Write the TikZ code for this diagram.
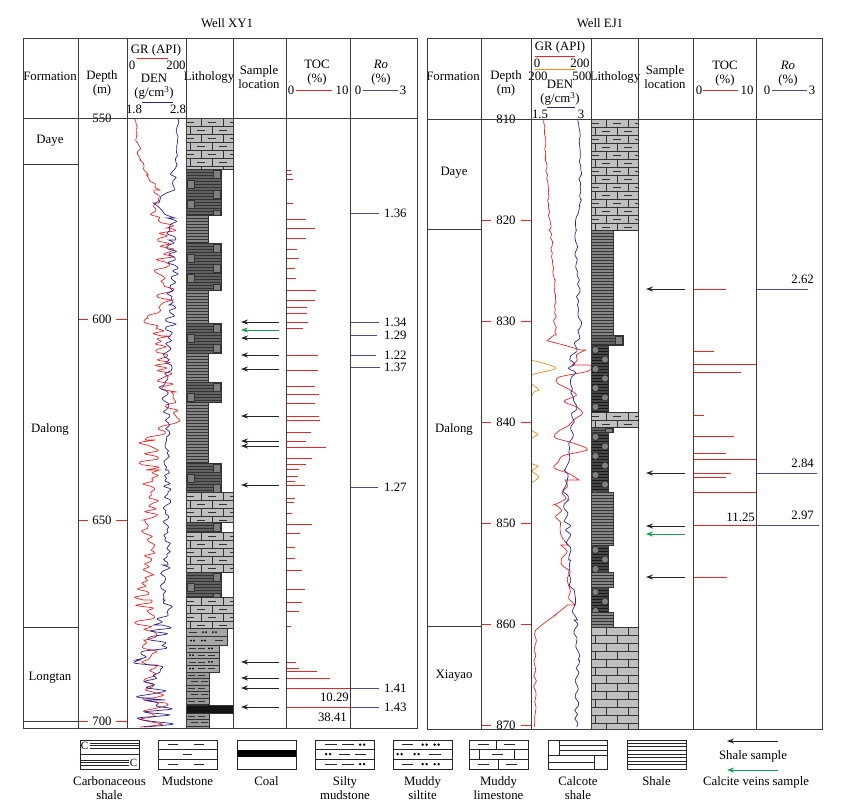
\documentclass[tikz,border=0pt]{standalone}
\usepackage{fontspec}
\setmainfont{Liberation Serif}
\usetikzlibrary{positioning}
\usetikzlibrary{calc}
\usetikzlibrary{arrows.meta}
\definecolor{grred}{RGB}{236,38,38}
\definecolor{denblue}{RGB}{48,36,140}
\definecolor{grorange}{RGB}{246,140,30}
\definecolor{roblue}{RGB}{80,70,150}
\definecolor{veingreen}{RGB}{20,160,80}
\definecolor{gridgray}{RGB}{60,60,60}
\tikzset{
	frame/.style={draw=gridgray, line width=0.9pt},
	hdr/.style={font=\fontsize{12.8}{14}\selectfont, inner sep=0pt, align=center},
	num/.style={font=\fontsize{12.8}{14}\selectfont, inner sep=0pt},
	depthtick/.style={draw=grred, line width=0.8pt},
	tocbar/.style={draw=grred, line width=0.8pt},
	robar/.style={draw=roblue, line width=0.9pt},
	grlog/.style={draw=grred, line width=0.7pt},
	orlog/.style={draw=grorange, line width=0.7pt},
	denlog/.style={draw=denblue, line width=0.7pt},
	sample/.style={draw=black!85, line width=0.9pt, -{Stealth[length=7pt,width=5pt]}},
	vein/.style={sample, draw=veingreen},
	lithline/.style={draw=black!80, line width=0.4pt},
	legline/.style={draw=black!85, line width=0.8pt},
	legbox/.style={draw=black!85, line width=0.8pt, minimum width=59pt, minimum height=29pt, inner sep=0pt, fill=white},
	leglabel/.style={font=\fontsize{12.8}{14}\selectfont, inner sep=0pt, align=center}
}
% lithology beds: x0, y0, x1, y1
\newcommand\plainlime[4]{%
	\fill[black!25] (#1,#2) rectangle (#3,#4);
	\begin{scope}
		\clip (#1,#2) rectangle (#3,#4);
		\foreach \k in {0,...,14} {
			\pgfmathsetmacro\ry{#2+\k*8}
			\pgfmathsetmacro\bx{#1+mod(\k,2)*11-7}
			\draw[lithline] (#1,\ry) -- (#3,\ry);
			\foreach \j in {0,1,2} \draw[lithline] (\bx+\j*22,\ry) -- (\bx+\j*22,\ry+8);
		}
	\end{scope}
	\draw[lithline] (#1,#2) rectangle (#3,#4);
}
\newcommand\mudlime[4]{%
	\plainlime{#1}{#2}{#3}{#4}
	\begin{scope}
		\clip (#1,#2) rectangle (#3,#4);
		\foreach \k in {0,...,14} {
			\pgfmathsetmacro\ry{#2+\k*8+4}
			\pgfmathsetmacro\bx{#1+mod(\k,2)*11-7}
			\foreach \j in {0,1,2} \draw[lithline, line width=0.7pt] (\bx+\j*22+7,\ry) -- (\bx+\j*22+15,\ry);
		}
	\end{scope}
}
\newcommand\shalebed[4]{%
	\fill[black!48] (#1,#2) rectangle (#3,#4);
	\begin{scope}
		\clip (#1,#2) rectangle (#3,#4);
		\foreach \k in {1,...,36} \draw[lithline] (#1,#2+\k*3) -- (#3,#2+\k*3);
	\end{scope}
	\draw[lithline] (#1,#2) rectangle (#3,#4);
}
\newcommand\carbshale[4]{%
	\fill[black!62] (#1,#2) rectangle (#3,#4);
	\begin{scope}
		\clip (#1,#2) rectangle (#3,#4);
		\foreach \k in {1,...,20} \draw[lithline] (#1,#2+\k*3) -- (#3,#2+\k*3);
		\foreach \k in {0,2,...,8} \filldraw[fill=black!50, draw=black!80, line width=0.4pt] (#3-8,#2+\k*10+1) rectangle (#3-1,#2+\k*10+9);
		\foreach \k in {1,3,...,9} \filldraw[fill=black!50, draw=black!80, line width=0.4pt] (#1+1,#2+\k*10+1) rectangle (#1+8,#2+\k*10+9);
	\end{scope}
	\draw[lithline] (#1,#2) rectangle (#3,#4);
}
\newcommand\calcshale[4]{%
	\fill[black!72] (#1,#2) rectangle (#3,#4);
	\begin{scope}
		\clip (#1,#2) rectangle (#3,#4);
		\foreach \k in {1,...,25} \draw[draw=black!90, line width=0.4pt] (#1,#2+\k*3) -- (#3,#2+\k*3);
		\foreach \k in {0,...,8} {
			\pgfmathsetmacro\cx{#1+4.5+mod(\k,2)*9.5}
			\filldraw[fill=black!50, draw=black!90, line width=0.4pt] (\cx,#2+5+\k*9.5) circle (3.5pt);
		}
	\end{scope}
	\draw[lithline] (#1,#2) rectangle (#3,#4);
}
\newcommand\mudbed[4]{%
	\fill[black!40] (#1,#2) rectangle (#3,#4);
	\begin{scope}
		\clip (#1,#2) rectangle (#3,#4);
		\foreach \k in {0,...,6} {
			\pgfmathsetmacro\ry{#2+\k*6.5}
			\pgfmathsetmacro\dx{#1+2+mod(\k,2)*3}
			\draw[lithline] (#1,\ry) -- (#3,\ry);
			\draw[lithline, line width=0.7pt] (\dx,\ry+3.25) -- (\dx+7,\ry+3.25) (\dx+10,\ry+3.25) -- (\dx+17,\ry+3.25);
		}
	\end{scope}
	\draw[lithline] (#1,#2) rectangle (#3,#4);
}
\newcommand\siltymud[4]{%
	\fill[black!35] (#1,#2) rectangle (#3,#4);
	\begin{scope}
		\clip (#1,#2) rectangle (#3,#4);
		\foreach \k in {0,2} {
			\pgfmathsetmacro\ry{#2+\k*6.75}
			\draw[lithline] (#1,\ry) -- (#3,\ry);
			\draw[lithline, line width=0.7pt] (#1+3,\ry+3.4) -- (#1+10,\ry+3.4) (#1+12,\ry+3.4) -- (#1+19,\ry+3.4);
			\fill[black] (#1+23,\ry+3.4) circle (1pt) (#1+26,\ry+3.4) circle (1pt);
		}
		\foreach \k in {1,3} {
			\pgfmathsetmacro\ry{#2+\k*6.75}
			\draw[lithline] (#1,\ry) -- (#3,\ry);
			\fill[black] (#1+4,\ry+3.4) circle (1pt) (#1+7,\ry+3.4) circle (1pt);
			\draw[lithline, line width=0.7pt] (#1+12,\ry+3.4) -- (#1+19,\ry+3.4) (#1+22,\ry+3.4) -- (#1+29,\ry+3.4);
		}
	\end{scope}
	\draw[lithline] (#1,#2) rectangle (#3,#4);
}
\newcommand\muddysilt[4]{%
	\fill[black!35] (#1,#2) rectangle (#3,#4);
	\draw[lithline] (#1,#2+8.5) -- (#3,#2+8.5);
	\draw[lithline, line width=0.7pt] (#1+3,#2+4.2) -- (#1+11,#2+4.2) (#1+29,#2+12.7) -- (#1+37,#2+12.7);
	\fill[black] (#1+17,#2+4.2) circle (1pt) (#1+20,#2+4.2) circle (1pt) (#1+27,#2+4.2) circle (1pt) (#1+30,#2+4.2) circle (1pt)
		(#1+5,#2+12.7) circle (1pt) (#1+8,#2+12.7) circle (1pt) (#1+16,#2+12.7) circle (1pt) (#1+19,#2+12.7) circle (1pt);
	\draw[lithline] (#1,#2) rectangle (#3,#4);
}
\newcommand\coalbed[4]{%
	\fill[black!92] (#1,#2) rectangle (#3,#4);
	\draw[lithline] (#1,#2) rectangle (#3,#4);
}
% wire-line log: style, start, segments ya/yb/xa/xb/amp/samples
\newcommand\wirelog[3]{%
	\draw[#1] #2 \foreach \ya/\yb/\xa/\xb/\am/\n in {#3} {
		-- plot[smooth, variable=\t, domain=\ya:\yb, samples=\n] ({\xa+(\xb-\xa)*(\t-\ya)/(\yb-\ya)+\am*rand}, \t)
	};
}
\begin{document}
\begin{tikzpicture}[x=1pt, y=-1pt]
\useasboundingbox (0,0) rectangle (848,806);
\pgfmathsetseed{4711}

%%%%% Well XY1
\node[hdr] (xy-title) at (227,23) {Well XY1};
\node[hdr] (xy-form) at (50,76) {Formation};
\node[hdr] (xy-depth) at (102,83) {Depth\\(m)};
\node[hdr] (xy-gr) at (156,50) {GR (API)};
\draw[grlog, line width=0.9pt] (137,58) -- (168,58);
\node[num] (xy-gr0) at (132,65) {0};
\node[num] (xy-gr1) at (176,65) {200};
\node[hdr] (xy-den) at (154,87) {DEN\\(g/cm\textsuperscript{3})};
\draw[denlog, line width=0.9pt] (142,102) -- (173,102);
\node[num] (xy-den0) at (134,109) {1.8};
\node[num] (xy-den1) at (178,109) {2.8};
\node[hdr] (xy-lith) at (209,77) {Lithology};
\node[hdr] (xy-sample) at (259,77) {Sample\\location};
\node[hdr] (xy-toc) at (317,73) {TOC\\(\%)};
\node[num] (xy-toc0) at (291,90) {0};
\draw[tocbar] (296,90) -- (332,90);
\node[num] (xy-toc1) at (342,90) {10};
\node[hdr] (xy-ro) at (381,73) {\textit{Ro}\\(\%)};
\node[num] (xy-ro0) at (358,90) {0};
\draw[robar] (363,90) -- (398,90);
\node[num] (xy-ro1) at (403,90) {3};

% formations
\node[hdr] (xy-daye) at (50,141) {Daye};
\node[hdr] (xy-dalong) at (50,429) {Dalong};
\node[hdr] (xy-longtan) at (50,678) {Longtan};

% depth scale
\foreach \d in {550,600,650,700} {
	\pgfmathsetmacro\yy{118+(\d-550)*4.02}
	\draw[depthtick] (78,\yy) -- (88,\yy) (116,\yy) -- (127,\yy);
	\node[num] (xy-d\d) at (102,\yy) {\d};
}

% lithology
\mudlime{186}{118}{233}{169}
\carbshale{186}{169}{221}{215}
\shalebed{186}{215}{208}{243}
\carbshale{186}{243}{221}{290}
\shalebed{186}{290}{208}{323}
\carbshale{186}{323}{221}{353}
\shalebed{186}{353}{208}{382}
\carbshale{186}{382}{221}{402}
\shalebed{186}{402}{208}{463}
\carbshale{186}{463}{221}{492}
\mudlime{186}{492}{233}{522}
\carbshale{186}{522}{221}{532}
\mudlime{186}{532}{233}{572}
\carbshale{186}{572}{221}{597}
\mudlime{186}{597}{233}{628}
\muddysilt{186}{628}{227}{645}
\siltymud{186}{645}{219}{672}
\mudbed{186}{672}{209}{705}
\coalbed{186}{705}{233}{713}
\mudbed{186}{713}{209}{728}

% logs
\begin{scope}
	\clip (127.5,118) rectangle (185.5,728);
	\wirelog{grlog}{(135,118)}{118/135/135/137/1.5/7, 135/160/137/140/2/10, 160/175/140/148/2/6,
		175/190/148/157/3/6, 190/212/157/155/4/9, 212/228/155/170/8/7, 228/262/170/163/10/14,
		262/300/163/168/10/15, 300/318/168/150/5/8, 318/336/150/162/8/8, 336/392/162/167/10/22,
		392/418/167/175/8/11, 418/440/175/148/10/9, 440/470/148/150/12/12, 470/520/150/150/10/19,
		520/575/150/146/8/21, 575/600/146/143/10/10, 600/640/143/148/10/16, 640/665/148/150/8/10,
		665/698/150/155/10/13, 698/727/155/150/16/12}
	\wirelog{denlog}{(178,118)}{118/165/178/176/1.5/16, 165/190/176/172/4/9, 190/203/172/155/6/5,
		203/218/155/172/6/5, 218/240/172/173/6/8, 240/305/173/172/6/24, 305/390/172/165/6/32,
		390/470/165/168/4/30, 470/565/168/166/4/36, 565/600/166/165/6/13, 600/625/165/160/10/9,
		625/660/160/150/15/13, 660/700/150/155/18/14, 700/727/155/155/20/10}
\end{scope}

% samples
\foreach \yy in {322,338,355,369,416,441,446,485,662,678,688,707}
	\draw[sample] (279,\yy) -- (241,\yy);
\draw[vein] (279,330) -- (241,330);

% TOC
\foreach \yy/\ll in {170/5, 174/6, 179/7, 203/7, 219/20, 228/29, 238/20, 249/11, 258/13, 268/9,
	278/10, 290/30, 300/29, 307/21, 313/21, 322/22, 328/17, 355/32, 370/32, 386/29, 394/33,
	403/29, 416/33, 420/34, 432/25, 441/20, 447/40, 458/26, 464/20, 469/13, 476/12, 481/9,
	485/19, 498/9, 502/8, 513/6, 524/26, 533/14, 547/9, 558/9, 570/16, 589/19, 602/16, 611/13,
	626/5, 662/10, 668/13, 671/31, 678/44, 688/64, 707/64}
	\draw[tocbar] (286,\yy) -- ++(\ll,0);
\node[num, anchor=east] (xy-toc-a) at (349,697) {10.29};
\node[num, anchor=east] (xy-toc-b) at (347,717) {38.41};

% Ro
\foreach \yy/\xe/\v [count=\i] in {213/379/1.36, 322/379/1.34, 335/377/1.29, 355/376/1.22,
	367/380/1.37, 487/378/1.27, 688/379/1.41, 707/379/1.43} {
	\draw[robar] (350,\yy) -- (\xe,\yy);
	\node[num, anchor=west] (xy-rv\i) at (384,\yy) {\v};
}

% table
\draw[frame] (23,38) rectangle (417,728);
\draw[frame] (23,118) -- (417,118);
\foreach \xx in {78,127,186,233,286,350} \draw[frame] (\xx,38) -- (\xx,728);
\draw[frame] (23,164) -- (78,164) (23,627) -- (78,627) (23,721) -- (78,721);

%%%%% Well EJ1
\node[hdr] (ej-title) at (600,23) {Well EJ1};
\node[hdr] (ej-form) at (453,76) {Formation};
\node[hdr] (ej-depth) at (506,83) {Depth\\(m)};
\node[hdr] (ej-gr) at (560,47) {GR (API)};
\draw[grlog, line width=0.9pt] (535,56) -- (575,56);
\node[num] (ej-gr0) at (537,63) {0};
\node[num] (ej-gr1) at (580,63) {200};
\draw[orlog, line width=0.9pt] (535,69) -- (575,69);
\node[num] (ej-gr2) at (538,76) {200};
\node[num] (ej-gr3) at (582,76) {500};
\node[hdr] (ej-den) at (560,93) {DEN\\(g/cm\textsuperscript{3})};
\draw[denlog, line width=0.9pt] (547,107) -- (575,107);
\node[num] (ej-den0) at (540,114) {1.5};
\node[num] (ej-den1) at (581,114) {3};
\node[hdr] (ej-lith) at (615,77) {Lithology};
\node[hdr] (ej-sample) at (665,77) {Sample\\location};
\node[hdr] (ej-toc) at (725,74) {TOC\\(\%)};
\node[num] (ej-toc0) at (699,90) {0};
\draw[tocbar] (703,90) -- (738,90);
\node[num] (ej-toc1) at (747,90) {10};
\node[hdr] (ej-ro) at (788,74) {\textit{Ro}\\(\%)};
\node[num] (ej-ro0) at (767,90) {0};
\draw[robar] (772,90) -- (807,90);
\node[num] (ej-ro1) at (812,90) {3};

% formations
\node[hdr] (ej-daye) at (454,173) {Daye};
\node[hdr] (ej-dalong) at (454,429) {Dalong};
\node[hdr] (ej-xiayao) at (454,676) {Xiayao};

% depth scale
\foreach \d in {810,820,...,870} {
	\pgfmathsetmacro\yy{119+(\d-810)*10.1}
	\draw[depthtick] (481,\yy) -- (491,\yy) (521,\yy) -- (531,\yy);
	\node[num] (ej-d\d) at (506,\yy) {\d};
}

% lithology
\mudlime{591}{119}{638}{230}
\shalebed{591}{230}{613}{335}
\carbshale{591}{335}{623}{345}
\calcshale{591}{345}{608}{412}
\mudlime{591}{412}{638}{427}
\carbshale{591}{427}{613}{432}
\calcshale{591}{432}{608}{492}
\shalebed{591}{492}{613}{545}
\calcshale{591}{545}{608}{572}
\shalebed{591}{572}{613}{587}
\calcshale{591}{587}{608}{612}
\shalebed{591}{612}{613}{627}
\plainlime{591}{627}{638}{729}

% logs
\begin{scope}
	\clip (531.5,119) rectangle (590.5,729);
	\wirelog{grlog}{(544,119)}{119/160/544/546/0.8/12, 160/230/546/550/1.5/20, 230/280/550/555/1.5/14,
		280/335/555/555/1.5/16, 335/341/555/547/1/3, 341/350/547/582/2/3, 350/365/582/575/4/4,
		365/480/575/570/17/20, 480/505/570/558/5/5, 505/545/558/565/6/8, 545/605/565/570/8/10,
		605/615/570/555/3/3, 615/630/555/535/1/4, 630/727/535/535/1.5/20}
	\draw[orlog] plot[smooth] coordinates {(531,360) (556,368) (532,375) (532,384) (539,390) (532,395)
		(531,428) (538,434) (531,440) (531,462) (538,466) (532,471) (539,477) (531,483)};
	\wirelog{denlog}{(579,119)}{119/200/579/581/1.5/20, 200/230/581/575/2/8, 230/330/575/580/2/25,
		330/360/580/572/3/8, 360/430/572/574/4/18, 430/470/574/565/3/10, 470/500/565/566/3/8,
		500/560/566/570/3/15, 560/620/570/575/3/15, 620/660/575/578/3/10, 660/727/578/576/3/17}
\end{scope}

% samples
\foreach \yy in {289,473,526,577}
	\draw[sample] (685,\yy) -- (646,\yy);
\draw[vein] (685,534) -- (646,534);

% TOC
\foreach \yy/\ll in {289/33, 351/21, 364/63, 372/48, 415/11, 436/41, 453/33, 459/63, 473/38,
	477/33, 492/63, 525/63, 577/34}
	\draw[tocbar] (693,\yy) -- ++(\ll,0);
\node[num, anchor=east] (ej-toc-a) at (755,517) {11.25};

% Ro
\foreach \yy/\xe/\v [count=\i] in {289/808/2.62, 473/817/2.84, 525/819/2.97} {
	\draw[robar] (756,\yy) -- (\xe,\yy);
	\node[num, anchor=east] (ej-rv\i) at (814,\yy-10) {\v};
}

% table
\draw[frame] (427,38) rectangle (822,729);
\draw[frame] (427,119) -- (822,119);
\foreach \xx in {481,531,591,638,693,756} \draw[frame] (\xx,38) -- (\xx,729);
\draw[frame] (427,229) -- (481,229) (427,626) -- (481,626);

%%%%% legend
\node[legbox] (lg-carb) at (109.5,754.5) {};
\node[legbox] (lg-mud) at (187.5,754.5) {};
\node[legbox] (lg-coal) at (266.5,754.5) {};
\node[legbox] (lg-smud) at (345,754.5) {};
\node[legbox] (lg-msilt) at (422.5,754.5) {};
\node[legbox] (lg-mlime) at (498.5,754.5) {};
\node[legbox] (lg-calc) at (578,754.5) {};
\node[legbox] (lg-shale) at (656.5,754.5) {};

\begin{scope}[shift={(lg-carb.north west)}]
	\node[leglabel, font=\fontsize{11}{12}\selectfont] (lg-carb-c1) at (5,6) {C};
	\node[leglabel, font=\fontsize{11}{12}\selectfont] (lg-carb-c2) at (54,23) {C};
	\foreach \yy in {3.5,6,8.5} \draw[legline] (10,\yy) -- (59,\yy);
	\draw[legline] (0,14.5) -- (59,14.5);
	\foreach \yy in {20.5,23,25.5} \draw[legline] (0,\yy) -- (49,\yy);
\end{scope}
\begin{scope}[shift={(lg-mud.north west)}]
	\draw[legline] (0,10) -- (59,10) (0,19.5) -- (59,19.5);
	\draw[legline] (10,5) -- (20,5) (36,5) -- (46,5) (25,14.5) -- (34,14.5) (10,24.5) -- (20,24.5) (36,24.5) -- (46,24.5);
\end{scope}
\begin{scope}[shift={(lg-coal.north west)}]
	\fill[black] (0,10) rectangle (59,17.5);
\end{scope}
\begin{scope}[shift={(lg-smud.north west)}]
	\draw[legline] (0,10) -- (59,10) (0,19.5) -- (59,19.5);
	\foreach \yy in {5,24.5} {
		\draw[legline] (10,\yy) -- (22,\yy) (27,\yy) -- (39,\yy);
		\fill[black] (45,\yy) circle (1.3pt) (49,\yy) circle (1.3pt);
	}
	\fill[black] (11,14.5) circle (1.3pt) (15,14.5) circle (1.3pt);
	\draw[legline] (24,14.5) -- (35,14.5) (40,14.5) -- (51,14.5);
\end{scope}
\begin{scope}[shift={(lg-msilt.north west)}]
	\draw[legline] (0,10) -- (59,10) (0,19.5) -- (59,19.5);
	\foreach \yy in {5,24.5} {
		\draw[legline] (9,\yy) -- (20,\yy);
		\fill[black] (30,\yy) circle (1.3pt) (34,\yy) circle (1.3pt) (42,\yy) circle (1.3pt) (46,\yy) circle (1.3pt);
	}
	\fill[black] (5,14.5) circle (1.3pt) (9,14.5) circle (1.3pt) (22,14.5) circle (1.3pt) (26,14.5) circle (1.3pt);
	\draw[legline] (36,14.5) -- (48,14.5);
\end{scope}
\begin{scope}[shift={(lg-mlime.north west)}]
	\draw[legline] (0,10) -- (59,10) (0,19.5) -- (59,19.5);
	\draw[legline] (28,0) -- (28,10) (11,10) -- (11,19.5) (46,10) -- (46,19.5) (30,19.5) -- (30,29);
	\draw[legline] (9,5) -- (20,5) (35,5) -- (46,5) (23,14.5) -- (34,14.5) (9,24.5) -- (20,24.5) (37,24.5) -- (48,24.5);
\end{scope}
\begin{scope}[shift={(lg-calc.north west)}]
	\draw[legline] (11,0) -- (11,16) (11,5.5) -- (59,5.5) (11,11) -- (59,11) (0,16) -- (59,16);
	\draw[legline] (46,16) -- (46,29) (0,22.5) -- (46,22.5);
\end{scope}
\begin{scope}[shift={(lg-shale.north west)}]
	\foreach \k in {1,...,7} \draw[legline] (0,\k*3.6) -- (59,\k*3.6);
\end{scope}

\node[leglabel, below=7pt of lg-carb] (lg-carb-t) {Carbonaceous\\shale};
\node[leglabel, below=7pt of lg-mud] (lg-mud-t) {Mudstone};
\node[leglabel, below=7pt of lg-coal] (lg-coal-t) {Coal};
\node[leglabel, below=7pt of lg-smud] (lg-smud-t) {Silty\\mudstone};
\node[leglabel, below=7pt of lg-msilt] (lg-msilt-t) {Muddy\\siltite};
\node[leglabel, below=7pt of lg-mlime] (lg-mlime-t) {Muddy\\limestone};
\node[leglabel, below=7pt of lg-calc] (lg-calc-t) {Calcote\\shale};
\node[leglabel, below=7pt of lg-shale] (lg-shale-t) {Shale};

\coordinate (lg-s1) at (778,741);
\coordinate (lg-s0) at (727,741);
\draw[sample] (lg-s1) -- (lg-s0);
\node[leglabel] (lg-s-t) at (753,756) {Shale sample};
\coordinate (lg-v1) at (778,770);
\coordinate (lg-v0) at (727,770);
\draw[vein] (lg-v1) -- (lg-v0);
\node[leglabel, anchor=north] (lg-v-t) at (756,776) {Calcite veins sample};
\end{tikzpicture}
\end{document}
